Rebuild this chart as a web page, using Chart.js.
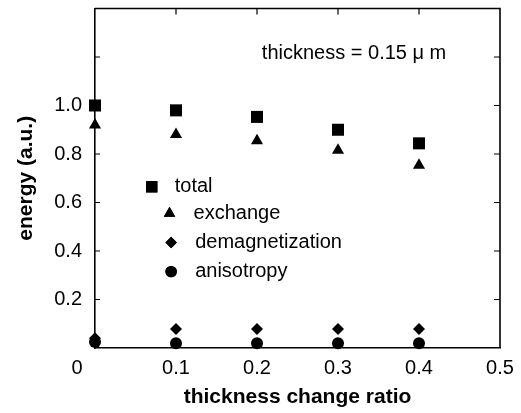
<!DOCTYPE html>
<html>
<head>
<meta charset="utf-8">
<script src="https://cdn.jsdelivr.net/npm/chart.js@4/dist/chart.umd.min.js"></script>
<style>
  html, body { margin: 0; padding: 0; background: #fff; }
  #wrap { width: 521px; height: 413px; position: relative; }
</style>
</head>
<body>
<div id="wrap"><canvas id="c" width="521" height="413"></canvas></div>
<script>
const ratios = [0, 0.1, 0.2, 0.3, 0.4];
const totalEnergy = [1.0, 0.98, 0.953, 0.90, 0.844];
const exchangeEnergy = [0.92, 0.88, 0.855, 0.815, 0.754];
const demagEnergy = [0.04, 0.078, 0.078, 0.078, 0.078];
const anisotropyEnergy = [0.025, 0.02, 0.02, 0.02, 0.02];
const seriesNames = ['total', 'exchange', 'demagnetization', 'anisotropy'];
const xTickLabels = ['0', '0.1', '0.2', '0.3', '0.4', '0.5'];
const yTickLabels = ['0.2', '0.4', '0.6', '0.8', '1.0'];
const annotationText = 'thickness = 0.15 \u03bc m';

const FONT = "'Liberation Sans', Arial, Helvetica, sans-serif";

function pts(ys) { return ratios.map((x, i) => ({ x: x, y: ys[i] })); }

const styles = [
  { pointStyle: 'rect', radius: 8.5 },
  { pointStyle: 'triangle', radius: 7 },
  { pointStyle: 'rectRot', radius: 6 },
  { pointStyle: 'circle', radius: 6 }
];
const seriesData = [totalEnergy, exchangeEnergy, demagEnergy, anisotropyEnergy];

const datasets = seriesData.map((ys, i) => ({
  label: seriesNames[i],
  data: pts(ys),
  pointStyle: styles[i].pointStyle,
  pointRadius: styles[i].radius,
  pointHoverRadius: styles[i].radius,
  backgroundColor: '#000',
  borderColor: '#000',
  borderWidth: 0,
  showLine: false,
  clip: false
}));

const framePlugin = {
  id: 'frame',
  afterDraw(chart) {
    const ctx = chart.ctx;
    const a = chart.chartArea;
    const xs = chart.scales.x, ys = chart.scales.y;
    ctx.save();
    ctx.strokeStyle = '#000';
    ctx.lineWidth = 1.6;
    ctx.beginPath();
    ctx.moveTo(a.left, a.top); ctx.lineTo(a.right, a.top); ctx.lineTo(a.right, a.bottom);
    ctx.stroke();
    ctx.lineWidth = 1.2;
    ctx.beginPath();
    [0.2, 0.4, 0.6, 0.8, 1.0, 1.2].forEach(v => {
      const py = ys.getPixelForValue(v);
      ctx.moveTo(a.left, py); ctx.lineTo(a.left + 5, py);
      ctx.moveTo(a.right, py); ctx.lineTo(a.right - 6, py);
    });
    [0.1, 0.2, 0.3, 0.4].forEach(v => {
      const px = xs.getPixelForValue(v);
      ctx.moveTo(px, a.top); ctx.lineTo(px, a.top + 6);
      ctx.moveTo(px, a.bottom); ctx.lineTo(px, a.bottom - 5);
    });
    ctx.stroke();
    ctx.fillStyle = '#000';
    ctx.font = '20px ' + FONT;
    ctx.textAlign = 'center';
    ctx.textBaseline = 'middle';
    ctx.fillText(xTickLabels[0], xs.getPixelForValue(0) - 18, a.bottom + 20);
    ctx.textAlign = 'left';
    ctx.fillText(annotationText, xs.getPixelForValue(0.206), ys.getPixelForValue(1.213));
    const legendY = [0.665, 0.555, 0.435, 0.315];
    const markerX = [0.07, 0.092, 0.094, 0.094];
    chart.data.datasets.forEach((ds, i) => {
      const py = ys.getPixelForValue(legendY[i]);
      const mx = xs.getPixelForValue(markerX[i]);
      Chart.helpers.drawPoint(ctx, { pointStyle: ds.pointStyle, radius: ds.pointRadius * 0.95, borderWidth: 0 }, mx, py);
      ctx.fill();
      ctx.fillStyle = '#000';
      ctx.fillText(ds.label, i === 0 ? mx + 23 : mx + 24, py);
    });
    ctx.restore();
  }
};

new Chart(document.getElementById('c'), {
  type: 'scatter',
  data: { datasets: datasets },
  plugins: [framePlugin],
  options: {
    responsive: false,
    animation: false,
    layout: { padding: { left: 0, right: 21, top: 6, bottom: 0 } },
    plugins: { legend: { display: false }, tooltip: { enabled: false } },
    scales: {
      x: {
        type: 'linear',
        min: 0, max: 0.5,
        afterFit(s) { s.height = 65; s.paddingLeft = 0; s.paddingRight = 0; },
        afterBuildTicks(s) { s.ticks = [0, 0.1, 0.2, 0.3, 0.4, 0.5].map(v => ({ value: v })); },
        ticks: {
          padding: 8,
          color: '#000',
          font: { family: FONT, size: 20 },
          maxRotation: 0,
          callback: (v, i) => (i === 0 ? '' : xTickLabels[i])
        },
        grid: { display: false, drawTicks: false },
        border: { display: true, color: '#000', width: 1.6 },
        title: {
          display: true,
          text: 'thickness change ratio',
          color: '#000',
          font: { family: FONT, size: 21, weight: 'bold' },
          padding: { top: 0, bottom: 3 }
        }
      },
      y: {
        type: 'linear',
        min: 0, max: 1.4,
        afterFit(s) { s.width = 95; s.paddingTop = 0; s.paddingBottom = 0; },
        afterBuildTicks(s) { s.ticks = [0.2, 0.4, 0.6, 0.8, 1.0].map(v => ({ value: v })); },
        ticks: {
          padding: 13,
          color: '#000',
          font: { family: FONT, size: 20 },
          callback: (v, i) => yTickLabels[i]
        },
        grid: { display: false, drawTicks: false },
        border: { display: true, color: '#000', width: 1.6 },
        title: {
          display: true,
          text: 'energy (a.u.)',
          color: '#000',
          font: { family: FONT, size: 21, weight: 'bold' },
          padding: { top: 14, bottom: 0 }
        }
      }
    }
  }
});
</script>
</body>
</html>
